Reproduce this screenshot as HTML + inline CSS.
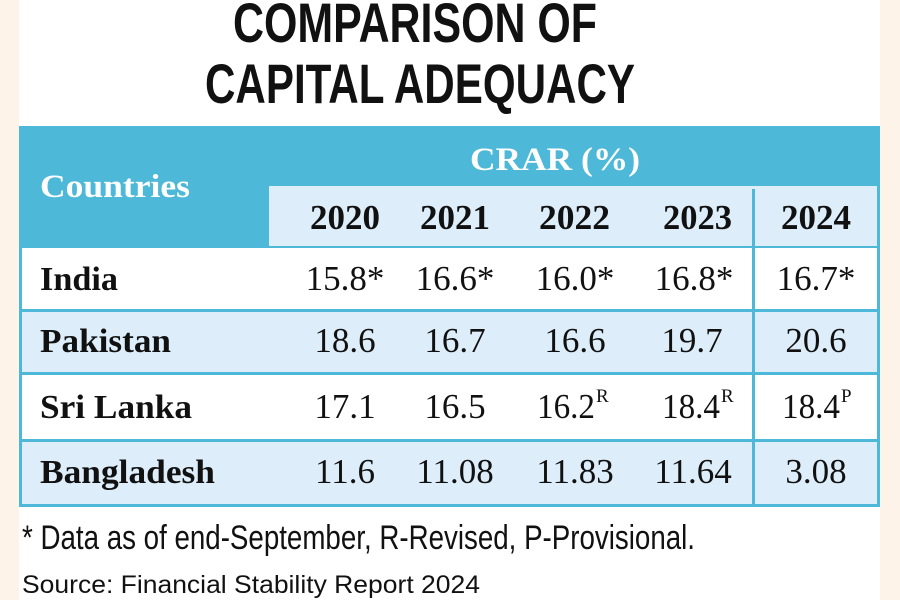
<!DOCTYPE html>
<html><head><meta charset="utf-8"><style>
html,body{margin:0;padding:0;background:#fff;}
svg{display:block}
</style></head><body>
<svg width="900" height="600" viewBox="0 0 900 600" xmlns="http://www.w3.org/2000/svg">
<rect x="0" y="0" width="900" height="600" fill="#fff"/>
<rect x="0" y="0" width="19" height="600" fill="#fdf3e8"/>
<rect x="880" y="0" width="20" height="600" fill="#fdf3e8"/>
<g font-family="Liberation Sans, sans-serif" font-weight="bold" fill="#111">
<text x="233" y="42" font-size="56" textLength="364" lengthAdjust="spacingAndGlyphs">COMPARISON OF</text>
<text x="205" y="103" font-size="56" textLength="430" lengthAdjust="spacingAndGlyphs">CAPITAL ADEQUACY</text>
</g>
<rect x="19" y="126" width="861" height="120" fill="#4db8d7"/>
<rect x="269" y="186" width="608" height="60" fill="#ddeefa"/>
<rect x="19" y="246" width="861" height="261" fill="#4db8d7"/>
<rect x="22" y="248" width="855" height="61" fill="#fff"/>
<rect x="22" y="312" width="855" height="60" fill="#ddeefa"/>
<rect x="22" y="375" width="855" height="64" fill="#fff"/>
<rect x="22" y="442" width="855" height="62" fill="#ddeefa"/>
<rect x="752" y="189" width="3" height="316" fill="#4db8d7"/>
<g font-family="Liberation Serif, serif" font-weight="bold">
<text x="40" y="197" font-size="33" fill="#fff" textLength="150" lengthAdjust="spacingAndGlyphs">Countries</text>
<text x="470" y="170" font-size="33" fill="#fff" textLength="170" lengthAdjust="spacingAndGlyphs">CRAR (%)</text>
<g font-size="35" fill="#111">
<text x="310" y="229" textLength="70" lengthAdjust="spacingAndGlyphs">2020</text>
<text x="420" y="229" textLength="70" lengthAdjust="spacingAndGlyphs">2021</text>
<text x="539" y="229" textLength="71" lengthAdjust="spacingAndGlyphs">2022</text>
<text x="663" y="229" textLength="69" lengthAdjust="spacingAndGlyphs">2023</text>
<text x="781" y="229" textLength="70" lengthAdjust="spacingAndGlyphs">2024</text>
</g>
<g font-size="34" fill="#111">
<text x="40" y="290" textLength="78" lengthAdjust="spacingAndGlyphs">India</text>
<text x="40" y="352" textLength="131" lengthAdjust="spacingAndGlyphs">Pakistan</text>
<text x="40" y="418" textLength="152" lengthAdjust="spacingAndGlyphs">Sri Lanka</text>
<text x="40" y="483" textLength="175" lengthAdjust="spacingAndGlyphs">Bangladesh</text>
</g>
</g>
<g font-family="Liberation Serif, serif" font-size="35" fill="#111" text-anchor="middle">
<text x="345" y="290">15.8*</text><text x="455" y="290">16.6*</text><text x="575" y="290">16.0*</text><text x="694" y="290">16.8*</text><text x="816" y="290">16.7*</text>
<text x="345" y="352">18.6</text><text x="455" y="352">16.7</text><text x="575" y="352">16.6</text><text x="692" y="352">19.7</text><text x="816" y="352">20.6</text>
<text x="345" y="418">17.1</text><text x="455" y="418">16.5</text>
<text x="345" y="483">11.6</text><text x="455" y="483">11.08</text><text x="575" y="483">11.83</text><text x="693" y="483">11.64</text><text x="816" y="483">3.08</text>
</g>
<g font-family="Liberation Serif, serif" font-size="35" fill="#111">
<text x="537" y="418" textLength="58" lengthAdjust="spacingAndGlyphs">16.2</text>
<text x="662" y="418" textLength="58" lengthAdjust="spacingAndGlyphs">18.4</text>
<text x="782" y="418" textLength="58" lengthAdjust="spacingAndGlyphs">18.4</text>
</g>
<g font-family="Liberation Serif, serif" font-size="19" fill="#111">
<text x="596" y="402">R</text><text x="721" y="402">R</text><text x="841" y="402">P</text>
</g>
<g font-family="Liberation Sans, sans-serif" fill="#111">
<text x="22" y="549" font-size="34" textLength="673" lengthAdjust="spacingAndGlyphs">* Data as of end-September, R-Revised, P-Provisional.</text>
<text x="22" y="593" font-size="25" textLength="458" lengthAdjust="spacingAndGlyphs">Source: Financial Stability Report 2024</text>
</g>
</svg>
</body></html>
